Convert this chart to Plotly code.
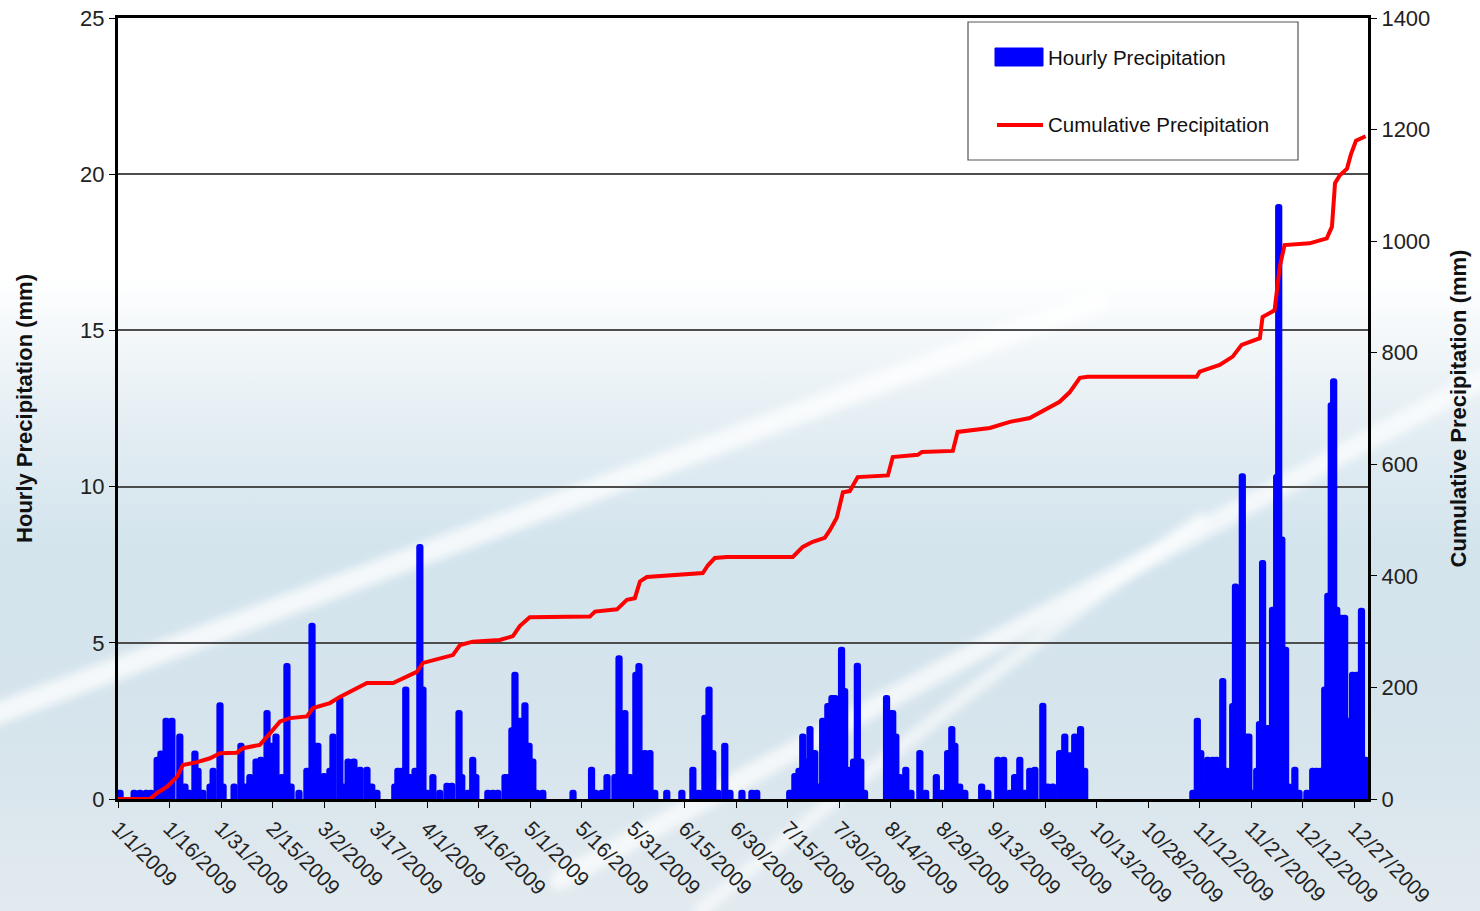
import base64
import pandas as pd
import plotly.graph_objects as go

# ---------------- data ----------------
# day offsets from 1 Jan 2009 and hourly precipitation (mm)
hourly_day = [0.6, 4.7, 6.4, 8.2, 9.6, 11.4, 12.5, 14.0, 15.7, 18.0, 19.5, 20.7, 22.4, 23.3, 24.7, 26.8,
              27.7, 29.7, 30.6, 33.8, 35.8, 37.0, 38.4, 40.2, 41.6, 43.4, 44.5, 46.0, 47.7, 49.2, 50.4,
              52.7, 55.0, 56.5, 57.4, 58.2, 60.0, 61.7, 62.6, 64.6, 65.5, 67.0, 68.7, 70.5, 72.5, 73.9,
              75.4, 80.6, 81.5, 82.7, 83.8, 85.0, 86.5, 87.9, 88.8, 90.0, 91.7, 93.7, 95.8, 97.2, 99.3,
              100.1, 101.9, 103.3, 104.2, 107.7, 109.2, 110.6, 112.7, 113.8, 114.7, 115.6, 117.0, 118.5,
              119.7, 120.8, 122.0, 123.7, 132.5, 137.9, 139.1, 140.9, 142.4, 144.7, 145.9, 147.6, 149.1,
              150.8, 151.7, 153.4, 154.9, 156.3, 159.8, 164.2, 167.4, 169.1, 170.9, 172.1, 173.2, 174.7,
              176.7, 178.2, 181.7, 184.6, 186.0, 195.6, 197.1, 198.3, 199.4, 200.3, 201.5, 202.9, 204.1,
              205.2, 206.7, 207.9, 208.8, 210.7, 211.6, 213.1, 214.2, 215.3, 216.3, 217.4, 223.8, 224.7,
              225.6, 226.5, 227.6, 229.4, 230.9, 233.5, 235.2, 238.3, 239.9, 241.6, 242.8, 243.7, 245.1,
              246.6, 251.5, 253.3, 256.2, 257.9, 259.7, 261.1, 262.6, 264.0, 265.5, 267.0, 269.3, 270.7,
              272.2, 274.2, 275.7, 277.1, 278.6, 280.3, 281.5, 313.0, 314.3, 315.3, 316.4, 317.3, 318.8,
              319.9, 320.8, 321.7, 322.8, 324.6, 325.4, 327.4, 328.3, 329.3, 330.4, 331.6, 332.4, 333.3,
              334.8, 336.2, 337.4, 338.0, 338.9, 340.0, 340.9, 342.7, 343.9, 346.2, 347.9, 349.0, 350.2,
              351.4, 352.3, 353.3, 354.0, 354.9, 356.1, 357.2, 358.4, 359.5, 360.7, 362.1, 363.3]
hourly_mm = [0.3, 0.3, 0.3, 0.3, 0.3, 1.35, 1.55, 2.6, 2.6, 2.1, 0.5, 0.3, 1.55, 1.0, 0.3, 0.5,
             1.0, 3.1, 0.5, 0.5, 1.8, 0.5, 0.8, 1.3, 1.35, 2.85, 1.8, 2.1, 0.8, 4.35, 0.5,
             0.3, 1.0, 5.64, 1.8, 1.8, 0.83, 1.0, 2.1, 3.28, 0.5, 1.3, 1.3, 1.03, 1.03, 0.5,
             0.3, 0.5, 1.0, 1.0, 3.6, 0.8, 1.0, 8.16, 3.6, 0.3, 0.8, 0.3, 0.52, 0.52, 2.85,
             0.8, 0.3, 1.35, 0.8, 0.3, 0.3, 0.3, 0.8, 0.8, 2.3, 4.07, 2.6, 3.1,
             1.8, 1.3, 0.3, 0.3, 0.3, 1.03, 0.3, 0.3, 0.8, 0.8, 4.6, 2.85, 0.8,
             4.07, 4.35, 1.57, 1.57, 0.3, 0.3, 0.3, 1.03, 0.3, 2.7, 3.6, 1.57, 0.3,
             1.8, 0.3, 0.3, 0.3, 0.3, 0.3, 0.83, 1.0, 2.1, 1.3, 2.34, 1.57, 0.5,
             2.6, 3.07, 3.33, 3.33, 4.87, 3.55, 1.03, 1.3, 4.36, 1.3, 0.3, 3.33, 2.85,
             2.85, 2.1, 0.8, 1.03, 0.3, 1.57, 0.3, 0.8, 0.3, 1.57, 2.34, 1.8, 0.5,
             0.3, 0.5, 0.3, 1.35, 1.35, 0.3, 0.8, 1.35, 0.3, 1.0, 1.03, 3.08, 0.5,
             0.5, 1.57, 2.1, 1.5, 2.1, 2.34, 1.0, 0.3, 2.6, 1.57, 0.5, 1.35, 1.35,
             1.35, 0.8, 3.87, 1.0, 3.07, 6.9, 10.43, 2.1, 2.1, 0.3, 1.0, 2.5, 7.65,
             2.37, 6.15, 10.4, 19.05, 8.4, 4.87, 0.5, 1.03, 0.3, 0.3, 1.0, 1.0, 1.0,
             3.6, 6.6, 12.7, 13.47, 6.15, 5.9, 5.9, 2.6, 4.07, 4.07, 6.12, 1.35]

# day offsets and cumulative precipitation (mm)
cum_day = [0.0, 9.3, 11.4, 14.3, 17.2, 18.9, 23.0, 26.8, 29.7, 34.6, 36.4, 41.3, 44.3, 47.2, 50.1,
           55.0, 56.8, 61.7, 64.6, 68.4, 72.5, 80.1, 83.0, 87.0, 88.8, 91.7, 97.5, 99.6, 103.3,
           111.2, 115.0, 117.0, 119.9, 137.4, 138.9, 145.3, 148.2, 150.5, 152.0, 154.0, 161.6,
           170.3, 171.8, 173.8, 177.3, 196.5, 199.4, 202.3, 205.8, 207.3, 209.3, 210.2, 211.1,
           213.1, 215.4, 224.2, 225.6, 232.9, 234.1, 243.1, 244.5, 253.9, 259.7, 265.5, 269.9,
           274.2, 277.1, 280.1, 282.4, 314.1, 315.0, 320.8, 324.6, 327.2, 332.5, 333.3, 336.8,
           338.3, 339.7, 347.0, 352.0, 353.5, 354.4, 355.8, 357.9, 359.0, 360.5, 363.3]
cum_mm = [0, 0, 11, 22, 40, 61, 66, 73, 82, 83, 91, 97, 118, 139, 145,
          148, 163, 172, 183, 195, 208, 208, 217, 228, 244, 249, 258, 276, 282,
          285, 292, 310, 326, 327, 336, 340, 357, 360, 390, 398, 401,
          405, 419, 432, 434, 434, 452, 461, 468, 482, 504, 524, 550,
          552, 577, 580, 613, 617, 622, 624, 658, 665, 676, 683, 697,
          712, 729, 755, 757, 757, 766, 778, 793, 814, 826, 864, 876,
          954, 993, 996, 1005, 1026, 1104, 1118, 1130, 1155, 1180, 1188]

legend_names = ["Hourly Precipitation", "Cumulative Precipitation"]

start = pd.Timestamp("2009-01-01")
hourly_x = start + pd.to_timedelta(hourly_day, unit="D")
cum_x = start + pd.to_timedelta(cum_day, unit="D")

DAY_MS = 86400000
FONT = "Arial, 'Liberation Sans', sans-serif"
BLUE, RED = "#0000ff", "#ff0000"

# ---------------- background (decorative gradient) ----------------
svg = """<svg xmlns='http://www.w3.org/2000/svg' width='1480' height='911' viewBox='0 0 1480 911'>
<defs>
<linearGradient id='g' x1='0' y1='0' x2='0' y2='1'>
<stop offset='0' stop-color='#ffffff'/>
<stop offset='0.30' stop-color='#ffffff'/>
<stop offset='0.45' stop-color='#e6eff4'/>
<stop offset='0.60' stop-color='#d3e4ed'/>
<stop offset='0.80' stop-color='#d6e4ec'/>
<stop offset='1' stop-color='#e2eaef'/>
</linearGradient>
<filter id='b'><feGaussianBlur stdDeviation='4'/></filter>
</defs>
<rect width='1480' height='911' fill='url(#g)'/>
<g filter='url(#b)' fill='none' stroke='#ffffff' stroke-linecap='round'>
<path d='M -20 720 Q 400 560 1100 300' stroke-width='22' stroke-opacity='0.75'/>
<path d='M 560 880 Q 900 690 1480 380' stroke-width='20' stroke-opacity='0.7'/>
<path d='M 700 911 Q 950 700 1200 520' stroke-width='14' stroke-opacity='0.6'/>
</g>
</svg>"""
bg_uri = "data:image/svg+xml;base64," + base64.b64encode(svg.encode()).decode()

# ---------------- figure ----------------
fig = go.Figure()

fig.add_trace(go.Bar(
    x=hourly_x, y=hourly_mm, width=2.1 * DAY_MS, name=legend_names[0],
    marker=dict(color=BLUE, line=dict(width=0), cornerradius=3),
    showlegend=False, yaxis="y",
))
fig.add_trace(go.Scatter(
    x=cum_x, y=cum_mm, mode="lines", name=legend_names[1],
    line=dict(color=RED, width=4),
    showlegend=False, yaxis="y2",
))

W, H = 1480, 911
ML, MR, MT, MB = 118, 112, 18, 112
PW, PH = W - ML - MR, H - MT - MB


def px(x):
    return (x - ML) / PW


def py(y):
    return (H - MB - y) / PH


# hand-drawn legend box (matches reference legend geometry)
shapes = [
    dict(type="rect", xref="paper", yref="paper",
         x0=px(968), x1=px(1298), y0=py(160), y1=py(22),
         fillcolor="white", line=dict(color="#555555", width=1.2), layer="above"),
    dict(type="rect", xref="paper", yref="paper",
         x0=px(995), x1=px(1043), y0=py(66), y1=py(48),
         fillcolor=BLUE, line=dict(color=BLUE, width=1), layer="above"),
    dict(type="line", xref="paper", yref="paper",
         x0=px(997), x1=px(1043), y0=py(125), y1=py(125),
         line=dict(color=RED, width=4), layer="above"),
]
annotations = [
    dict(text=legend_names[0], xref="paper", yref="paper", x=px(1046), y=py(57),
         xanchor="left", yanchor="middle", showarrow=False,
         font=dict(family=FONT, size=20.5, color="#111111")),
    dict(text=legend_names[1], xref="paper", yref="paper", x=px(1046), y=py(125),
         xanchor="left", yanchor="middle", showarrow=False,
         font=dict(family=FONT, size=20.5, color="#111111")),
]

fig.update_layout(
    width=W, height=H,
    margin=dict(l=ML, r=MR, t=MT, b=MB, autoexpand=False),
    paper_bgcolor="white",
    plot_bgcolor="rgba(0,0,0,0)",
    font=dict(family=FONT, size=20, color="#222222"),
    barmode="overlay",
    showlegend=False,
    images=[dict(source=bg_uri, xref="paper", yref="paper",
                 x=px(0), y=py(0), sizex=W / PW, sizey=H / PH,
                 sizing="stretch", layer="below", xanchor="left", yanchor="top")],
    shapes=shapes,
    annotations=annotations,
    xaxis=dict(
        type="date", range=["2009-01-01", "2009-12-31"],
        tick0="2009-01-01", dtick=15 * DAY_MS, tickformat="%-m/%-d/%Y",
        tickangle=45, ticks="outside", ticklen=6, tickcolor="black", tickwidth=1,
        showline=True, linewidth=3, linecolor="black", mirror=True,
        showgrid=False, zeroline=False, layer="below traces",
        tickfont=dict(size=21, color="#222222"),
    ),
    yaxis=dict(
        range=[0, 25], dtick=5, ticks="outside", ticklen=6, tickcolor="black",
        showgrid=True, gridcolor="#4d4d4d", gridwidth=1.5,
        showline=True, linewidth=3, linecolor="black", mirror=True, zeroline=False,
        tickfont=dict(size=22, color="#222222"),
        title=dict(text="<b>Hourly Precipitation (mm)</b>", font=dict(size=22, color="#111111"),
                   standoff=42),
    ),
    yaxis2=dict(
        overlaying="y", side="right", anchor="x",
        range=[0, 1400], dtick=200, ticks="outside", ticklen=6, tickcolor="black",
        showgrid=False, showline=True, linewidth=3, linecolor="black", zeroline=False,
        tickfont=dict(size=22, color="#222222"),
        title=dict(text="<b>Cumulative Precipitation (mm)</b>", font=dict(size=22, color="#111111"),
                   standoff=22),
    ),
)

fig.write_html(
    "out.html",
    config={"displayModeBar": False},
    post_script="document.body.style.margin='0';document.body.style.overflow='hidden';",
)
